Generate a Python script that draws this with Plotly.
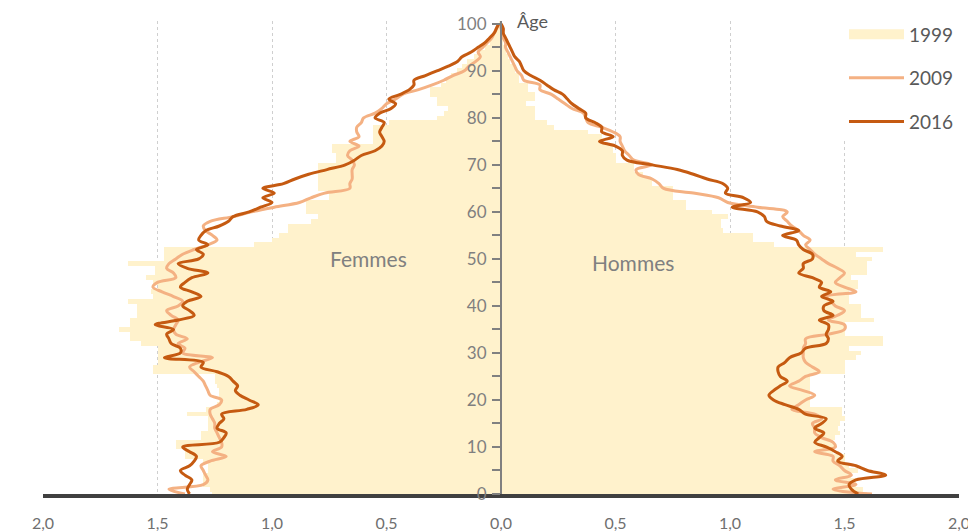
import plotly.graph_objects as go

AGES = list(range(101))

# Share of population (%) by single year of age — women (left), men (right)
FEMMES_1999 = [1.26, 1.27, 1.30, 1.30, 1.30, 1.28, 1.28, 1.30, 1.38, 1.38,
               1.42, 1.42, 1.31, 1.31, 1.28, 1.28, 1.28, 1.37, 1.29, 1.24,
               1.23, 1.23, 1.23, 1.24, 1.25, 1.25, 1.52, 1.52, 1.50, 1.50,
               1.50, 1.50, 1.57, 1.62, 1.62, 1.67, 1.62, 1.62, 1.59, 1.59,
               1.59, 1.63, 1.52, 1.53, 1.50, 1.52, 1.55, 1.51, 1.51, 1.63,
               1.47, 1.47, 1.47, 1.08, 1.00, 0.97, 0.93, 0.93, 0.83, 0.80,
               0.85, 0.85, 0.85, 0.75, 0.75, 0.80, 0.80, 0.80, 0.80, 0.80,
               0.80, 0.72, 0.72, 0.74, 0.74, 0.56, 0.56, 0.56, 0.56, 0.49,
               0.28, 0.25, 0.23, 0.28, 0.28, 0.31, 0.31, 0.26, 0.24, 0.22,
               0.19, 0.17, 0.15, 0.12, 0.10, 0.07, 0.05, 0.04, 0.03, 0.02,
               0.01]
HOMMES_1999 = [1.60, 1.58, 1.55, 1.55, 1.53, 1.56, 1.52, 1.50, 1.50, 1.45,
               1.46, 1.45, 1.46, 1.48, 1.47, 1.48, 1.50, 1.49, 1.49, 1.35,
               1.35, 1.35, 1.35, 1.35, 1.35, 1.35, 1.50, 1.50, 1.50, 1.55,
               1.57, 1.52, 1.67, 1.67, 1.50, 1.50, 1.50, 1.63, 1.57, 1.57,
               1.57, 1.52, 1.52, 1.52, 1.56, 1.56, 1.53, 1.60, 1.60, 1.60,
               1.62, 1.55, 1.67, 1.19, 1.10, 1.10, 0.97, 0.96, 0.96, 0.99,
               0.92, 0.81, 0.81, 0.75, 0.75, 0.75, 0.66, 0.66, 0.62, 0.58,
               0.58, 0.50, 0.50, 0.49, 0.49, 0.44, 0.44, 0.38, 0.23, 0.20,
               0.15, 0.15, 0.15, 0.11, 0.15, 0.15, 0.12, 0.12, 0.08, 0.08,
               0.06, 0.06, 0.04, 0.03, 0.02, 0.02, 0.01, 0.01, 0.01, 0.00,
               0.00]
FEMMES_2009 = [1.38, 1.45, 1.30, 1.28, 1.29, 1.30, 1.31, 1.27, 1.20, 1.26,
               1.22, 1.22, 1.23, 1.24, 1.25, 1.25, 1.26, 1.27, 1.27, 1.23,
               1.22, 1.27, 1.28, 1.29, 1.30, 1.32, 1.34, 1.36, 1.32, 1.26,
               1.39, 1.38, 1.41, 1.37, 1.42, 1.43, 1.42, 1.41, 1.44, 1.46,
               1.41, 1.39, 1.43, 1.48, 1.52, 1.50, 1.42, 1.43, 1.46, 1.45,
               1.42, 1.39, 1.34, 1.28, 1.24, 1.26, 1.29, 1.30, 1.27, 1.17,
               1.09, 0.99, 0.88, 0.83, 0.77, 0.66, 0.66, 0.65, 0.65, 0.65,
               0.64, 0.65, 0.67, 0.66, 0.62, 0.66, 0.62, 0.63, 0.63, 0.61,
               0.60, 0.55, 0.52, 0.50, 0.46, 0.43, 0.36, 0.30, 0.25, 0.21,
               0.16, 0.14, 0.11, 0.09, 0.10, 0.08, 0.06, 0.04, 0.03, 0.02,
               0.01]
HOMMES_2009 = [1.62, 1.45, 1.55, 1.46, 1.53, 1.50, 1.48, 1.45, 1.45, 1.37,
               1.46, 1.45, 1.40, 1.37, 1.37, 1.36, 1.40, 1.37, 1.27, 1.30,
               1.33, 1.37, 1.32, 1.26, 1.30, 1.33, 1.39, 1.36, 1.33, 1.32,
               1.32, 1.32, 1.33, 1.33, 1.43, 1.50, 1.50, 1.43, 1.47, 1.50,
               1.46, 1.44, 1.42, 1.55, 1.50, 1.46, 1.48, 1.50, 1.47, 1.43,
               1.40, 1.37, 1.35, 1.33, 1.35, 1.32, 1.30, 1.27, 1.25, 1.23,
               1.25, 1.12, 0.99, 0.95, 0.84, 0.71, 0.69, 0.66, 0.60, 0.59,
               0.66, 0.58, 0.56, 0.54, 0.53, 0.52, 0.52, 0.49, 0.44, 0.38,
               0.37, 0.36, 0.31, 0.28, 0.25, 0.22, 0.17, 0.17, 0.10, 0.09,
               0.07, 0.06, 0.05, 0.04, 0.03, 0.02, 0.02, 0.01, 0.01, 0.00,
               0.00]
FEMMES_2016 = [1.36, 1.37, 1.36, 1.35, 1.38, 1.40, 1.36, 1.34, 1.33, 1.36,
               1.39, 1.23, 1.21, 1.20, 1.24, 1.23, 1.21, 1.22, 1.11, 1.06,
               1.10, 1.14, 1.16, 1.15, 1.17, 1.19, 1.24, 1.31, 1.30, 1.47,
               1.40, 1.40, 1.44, 1.45, 1.46, 1.43, 1.51, 1.41, 1.34, 1.36,
               1.39, 1.37, 1.31, 1.35, 1.40, 1.38, 1.35, 1.28, 1.37, 1.41,
               1.32, 1.30, 1.33, 1.28, 1.32, 1.31, 1.29, 1.23, 1.19, 1.17,
               1.10, 1.05, 1.00, 1.04, 0.99, 1.04, 0.95, 0.90, 0.84, 0.76,
               0.68, 0.64, 0.61, 0.55, 0.52, 0.51, 0.52, 0.53, 0.52, 0.51,
               0.55, 0.53, 0.48, 0.46, 0.49, 0.44, 0.40, 0.38, 0.38, 0.33,
               0.28, 0.23, 0.19, 0.17, 0.13, 0.10, 0.07, 0.05, 0.03, 0.02,
               0.01]
HOMMES_2016 = [1.56, 1.53, 1.52, 1.55, 1.68, 1.60, 1.55, 1.47, 1.49, 1.46,
               1.42, 1.37, 1.39, 1.41, 1.37, 1.40, 1.42, 1.33, 1.30, 1.24,
               1.19, 1.17, 1.19, 1.22, 1.25, 1.22, 1.21, 1.21, 1.24, 1.26,
               1.31, 1.33, 1.42, 1.43, 1.42, 1.43, 1.43, 1.39, 1.45, 1.41,
               1.41, 1.45, 1.40, 1.44, 1.39, 1.40, 1.36, 1.30, 1.32, 1.32,
               1.36, 1.36, 1.32, 1.30, 1.29, 1.23, 1.30, 1.22, 1.16, 1.15,
               1.12, 1.01, 1.09, 1.06, 0.98, 0.99, 0.97, 0.90, 0.84, 0.77,
               0.66, 0.55, 0.53, 0.53, 0.50, 0.43, 0.49, 0.44, 0.44, 0.41,
               0.37, 0.37, 0.34, 0.31, 0.29, 0.27, 0.23, 0.20, 0.17, 0.13,
               0.10, 0.09, 0.08, 0.06, 0.05, 0.04, 0.03, 0.02, 0.01, 0.01,
               0.00]

X_TICKS = [-2.0, -1.5, -1.0, -0.5, 0.0, 0.5, 1.0, 1.5, 2.0]
X_TICK_TEXT = ["2,0", "1,5", "1,0", "0,5", "0,0", "0,5", "1,0", "1,5", "2,0"]

C1999 = "#FFF2CC"
C2009 = "#F4B183"
C2016 = "#C55A11"
FONT = "Lato"

neg = lambda v: [-a for a in v]

fig = go.Figure()

# 1999 bars
fig.add_trace(go.Bar(x=neg(FEMMES_1999), y=AGES, orientation="h", width=1,
                     marker=dict(color=C1999, line=dict(width=0)),
                     showlegend=False, hoverinfo="skip"))
fig.add_trace(go.Bar(x=HOMMES_1999, y=AGES, orientation="h", width=1,
                     marker=dict(color=C1999, line=dict(width=0)),
                     showlegend=False, hoverinfo="skip"))
# legend proxy for the 1999 bars
fig.add_trace(go.Scatter(x=[None], y=[None], mode="lines", name="1999",
                         line=dict(color=C1999, width=13), legendgroup="a"))

# 2009 lines
fig.add_trace(go.Scatter(x=neg(FEMMES_2009), y=AGES, mode="lines", name="2009",
                         line=dict(color=C2009, width=3, shape="spline", smoothing=1),
                         legendgroup="b"))
fig.add_trace(go.Scatter(x=HOMMES_2009, y=AGES, mode="lines", name="2009",
                         line=dict(color=C2009, width=3, shape="spline", smoothing=1),
                         legendgroup="b", showlegend=False))
# 2016 lines
fig.add_trace(go.Scatter(x=neg(FEMMES_2016), y=AGES, mode="lines", name="2016",
                         line=dict(color=C2016, width=3, shape="spline", smoothing=1),
                         legendgroup="c"))
fig.add_trace(go.Scatter(x=HOMMES_2016, y=AGES, mode="lines", name="2016",
                         line=dict(color=C2016, width=3, shape="spline", smoothing=1),
                         legendgroup="c", showlegend=False))

# The page adds an 8px body margin, so the figure is 8px smaller and margins shifted.
fig.update_layout(
    width=968, height=523,
    margin=dict(l=35, r=17, t=13, b=37, autoexpand=False),
    paper_bgcolor="white", plot_bgcolor="white",
    barmode="overlay", bargap=0,
    font=dict(family=FONT, color="#7f7f7f", size=16),
    showlegend=True,
    legend=dict(x=1.0, xanchor="right", y=1.012, yanchor="top",
                bgcolor="white", font=dict(size=19, color="#595959"),
                itemwidth=55, tracegroupgap=16, traceorder="grouped",
                borderwidth=0),
    xaxis=dict(range=[-2, 2], tickvals=X_TICKS, ticktext=X_TICK_TEXT,
               showgrid=True, gridcolor="#cfcfcf", griddash="dot", gridwidth=1,
               zeroline=False, showline=True, linecolor="#404040", linewidth=4,
               ticks="", ticklabelstandoff=12,
               tickfont=dict(size=16, color="#6f6f6f"), fixedrange=True),
    yaxis=dict(range=[0, 100.6], anchor="free", position=0.5, side="left",
               tickvals=list(range(0, 101, 10)), showgrid=False, zeroline=False,
               showline=True, linecolor="#808080", linewidth=2,
               ticks="outside", ticklen=8, tickwidth=2, tickcolor="#808080",
               minor=dict(dtick=5, tick0=0, ticks="outside", ticklen=8,
                          tickwidth=2, tickcolor="#808080"),
               ticklabelstandoff=2,
               tickfont=dict(size=17, color="#7f7f7f"), fixedrange=True),
    annotations=[
        dict(text="Âge", x=0.06, y=100.6, xref="x", yref="y", xanchor="left",
             yanchor="middle", showarrow=False, font=dict(size=18, color="#595959")),
        dict(text="Femmes", x=-0.58, y=50, xref="x", yref="y", showarrow=False,
             font=dict(size=21, color="#808080")),
        dict(text="Hommes", x=0.575, y=49.2, xref="x", yref="y", showarrow=False,
             font=dict(size=21, color="#808080")),
    ],
)

fig.write_html("out.html")
